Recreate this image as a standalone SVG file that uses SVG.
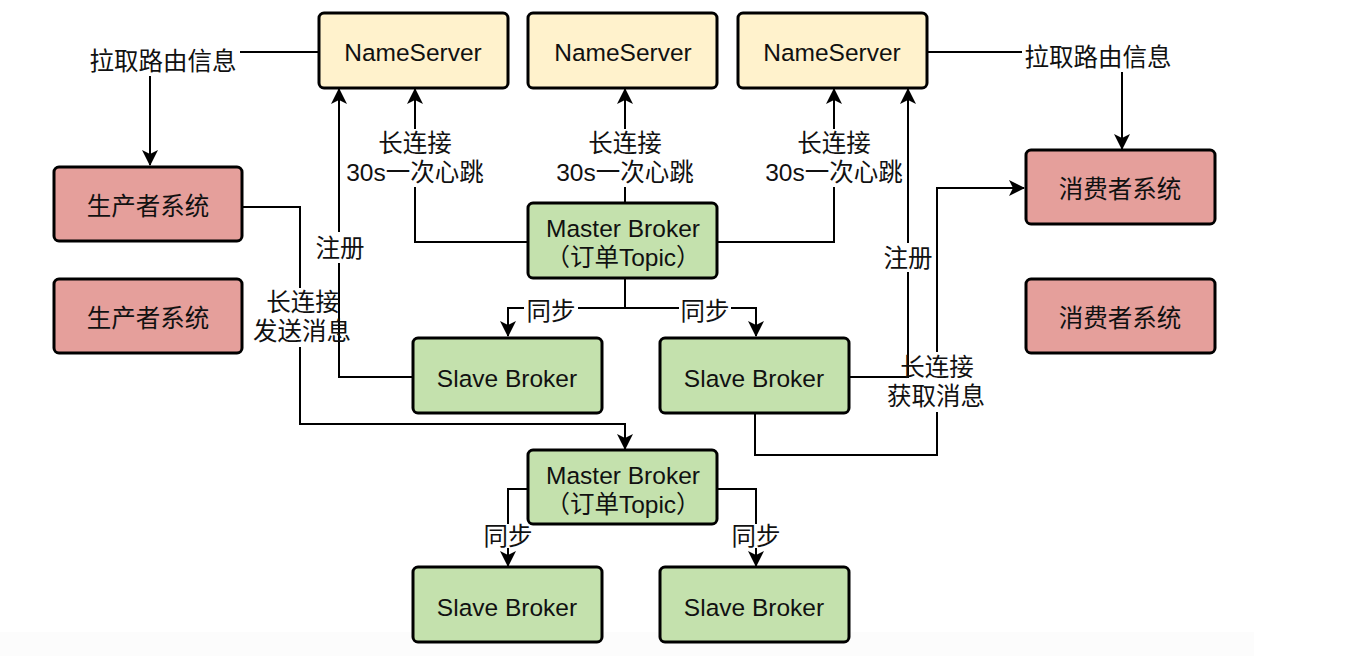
<svg xmlns="http://www.w3.org/2000/svg" width="1360" height="656" viewBox="0 0 1360 656">
<defs>
<style>
.box{stroke:#000;stroke-width:3}
.ns{fill:#fff2cc}
.red{fill:#e59f9b}
.grn{fill:#c4e1ad}
.t{font-family:"Liberation Sans","Noto Sans CJK SC",sans-serif;font-size:24.5px;fill:#111;text-anchor:middle;dominant-baseline:central}
.c{fill:none;stroke:#000;stroke-width:2}
.a{marker-end:url(#arr)}
</style>
<marker id="arr" viewBox="0 0 16 16" refX="15" refY="8" markerWidth="16" markerHeight="16" markerUnits="userSpaceOnUse" orient="auto">
<path d="M0,0 L16,8 L0,16 L4,8 z" fill="#000"/>
</marker>
</defs>
<rect width="1360" height="656" fill="#fff"/>
<rect x="0" y="632" width="1254" height="24" fill="#fcfcfc"/>

<g id="connectors">
<path class="c" d="M318,52 H240"/>
<path class="c a" d="M150,76 V165"/>
<path class="c" d="M927,52 H1022"/>
<path class="c a" d="M1122,72 V149"/>
<path class="c" d="M528,242 H415 V187"/>
<path class="c a" d="M415,129 V89"/>
<path class="c" d="M625,203 V187"/>
<path class="c a" d="M625,129 V89"/>
<path class="c" d="M717,242 H834 V187"/>
<path class="c a" d="M834,129 V89"/>
<path class="c" d="M625,278 V308 H578"/>
<path class="c a" d="M524,308 H508 V336"/>
<path class="c" d="M625,308 H679"/>
<path class="c a" d="M731,308 H756 V336"/>
<path class="c" d="M413,377 H339 V263"/>
<path class="c a" d="M339,232 V89"/>
<path class="c" d="M242,207 H300 V288"/>
<path class="c a" d="M300,347 V424 H625 V449"/>
<path class="c" d="M849,377 H908 V272"/>
<path class="c a" d="M908,243 V89"/>
<path class="c" d="M755,413 V455 H937 V412"/>
<path class="c a" d="M937,352 V188 H1024"/>
<path class="c" d="M528,489 H508 V524"/>
<path class="c a" d="M508,548 V566"/>
<path class="c" d="M717,489 H756 V524"/>
<path class="c a" d="M756,548 V566"/>
</g>

<g id="edge-labels">
<text class="t" x="163" y="61">拉取路由信息</text>
<text class="t" x="1098" y="57">拉取路由信息</text>
<text class="t" x="415" y="143">长连接</text>
<text class="t" x="415" y="172">30s一次心跳</text>
<text class="t" x="625" y="143">长连接</text>
<text class="t" x="625" y="172">30s一次心跳</text>
<text class="t" x="834" y="143">长连接</text>
<text class="t" x="834" y="172">30s一次心跳</text>
<text class="t" x="340" y="248">注册</text>
<text class="t" x="908" y="258">注册</text>
<text class="t" x="303" y="302">长连接</text>
<text class="t" x="302" y="331">发送消息</text>
<text class="t" x="937" y="367">长连接</text>
<text class="t" x="936" y="396">获取消息</text>
<text class="t" x="551" y="311">同步</text>
<text class="t" x="705" y="311">同步</text>
<text class="t" x="508" y="536">同步</text>
<text class="t" x="756" y="536">同步</text>
</g>

<g id="ns1"><rect class="box ns" x="319" y="13" width="189" height="75" rx="5"/><text class="t" x="413" y="52">NameServer</text></g>
<g id="ns2"><rect class="box ns" x="528" y="13" width="189" height="75" rx="5"/><text class="t" x="623" y="52">NameServer</text></g>
<g id="ns3"><rect class="box ns" x="738" y="13" width="189" height="75" rx="5"/><text class="t" x="832" y="52">NameServer</text></g>

<g id="producer1"><rect class="box red" x="54" y="167" width="188" height="74" rx="5"/><text class="t" x="148" y="206">生产者系统</text></g>
<g id="producer2"><rect class="box red" x="54" y="279" width="188" height="74" rx="5"/><text class="t" x="148" y="318">生产者系统</text></g>
<g id="consumer1"><rect class="box red" x="1026" y="150" width="189" height="74" rx="5"/><text class="t" x="1120" y="189">消费者系统</text></g>
<g id="consumer2"><rect class="box red" x="1026" y="279" width="189" height="74" rx="5"/><text class="t" x="1120" y="318">消费者系统</text></g>

<g id="master1"><rect class="box grn" x="528" y="203" width="189" height="75" rx="5"/><text class="t" x="623" y="228">Master Broker</text><text class="t" x="623" y="257">（订单Topic）</text></g>
<g id="slave1"><rect class="box grn" x="413" y="338" width="189" height="75" rx="5"/><text class="t" x="507" y="378">Slave Broker</text></g>
<g id="slave2"><rect class="box grn" x="660" y="338" width="189" height="75" rx="5"/><text class="t" x="754" y="378">Slave Broker</text></g>
<g id="master2"><rect class="box grn" x="528" y="450" width="189" height="74" rx="5"/><text class="t" x="623" y="475">Master Broker</text><text class="t" x="623" y="504">（订单Topic）</text></g>
<g id="slave3"><rect class="box grn" x="413" y="567" width="189" height="75" rx="5"/><text class="t" x="507" y="607">Slave Broker</text></g>
<g id="slave4"><rect class="box grn" x="660" y="567" width="189" height="75" rx="5"/><text class="t" x="754" y="607">Slave Broker</text></g>
</svg>
